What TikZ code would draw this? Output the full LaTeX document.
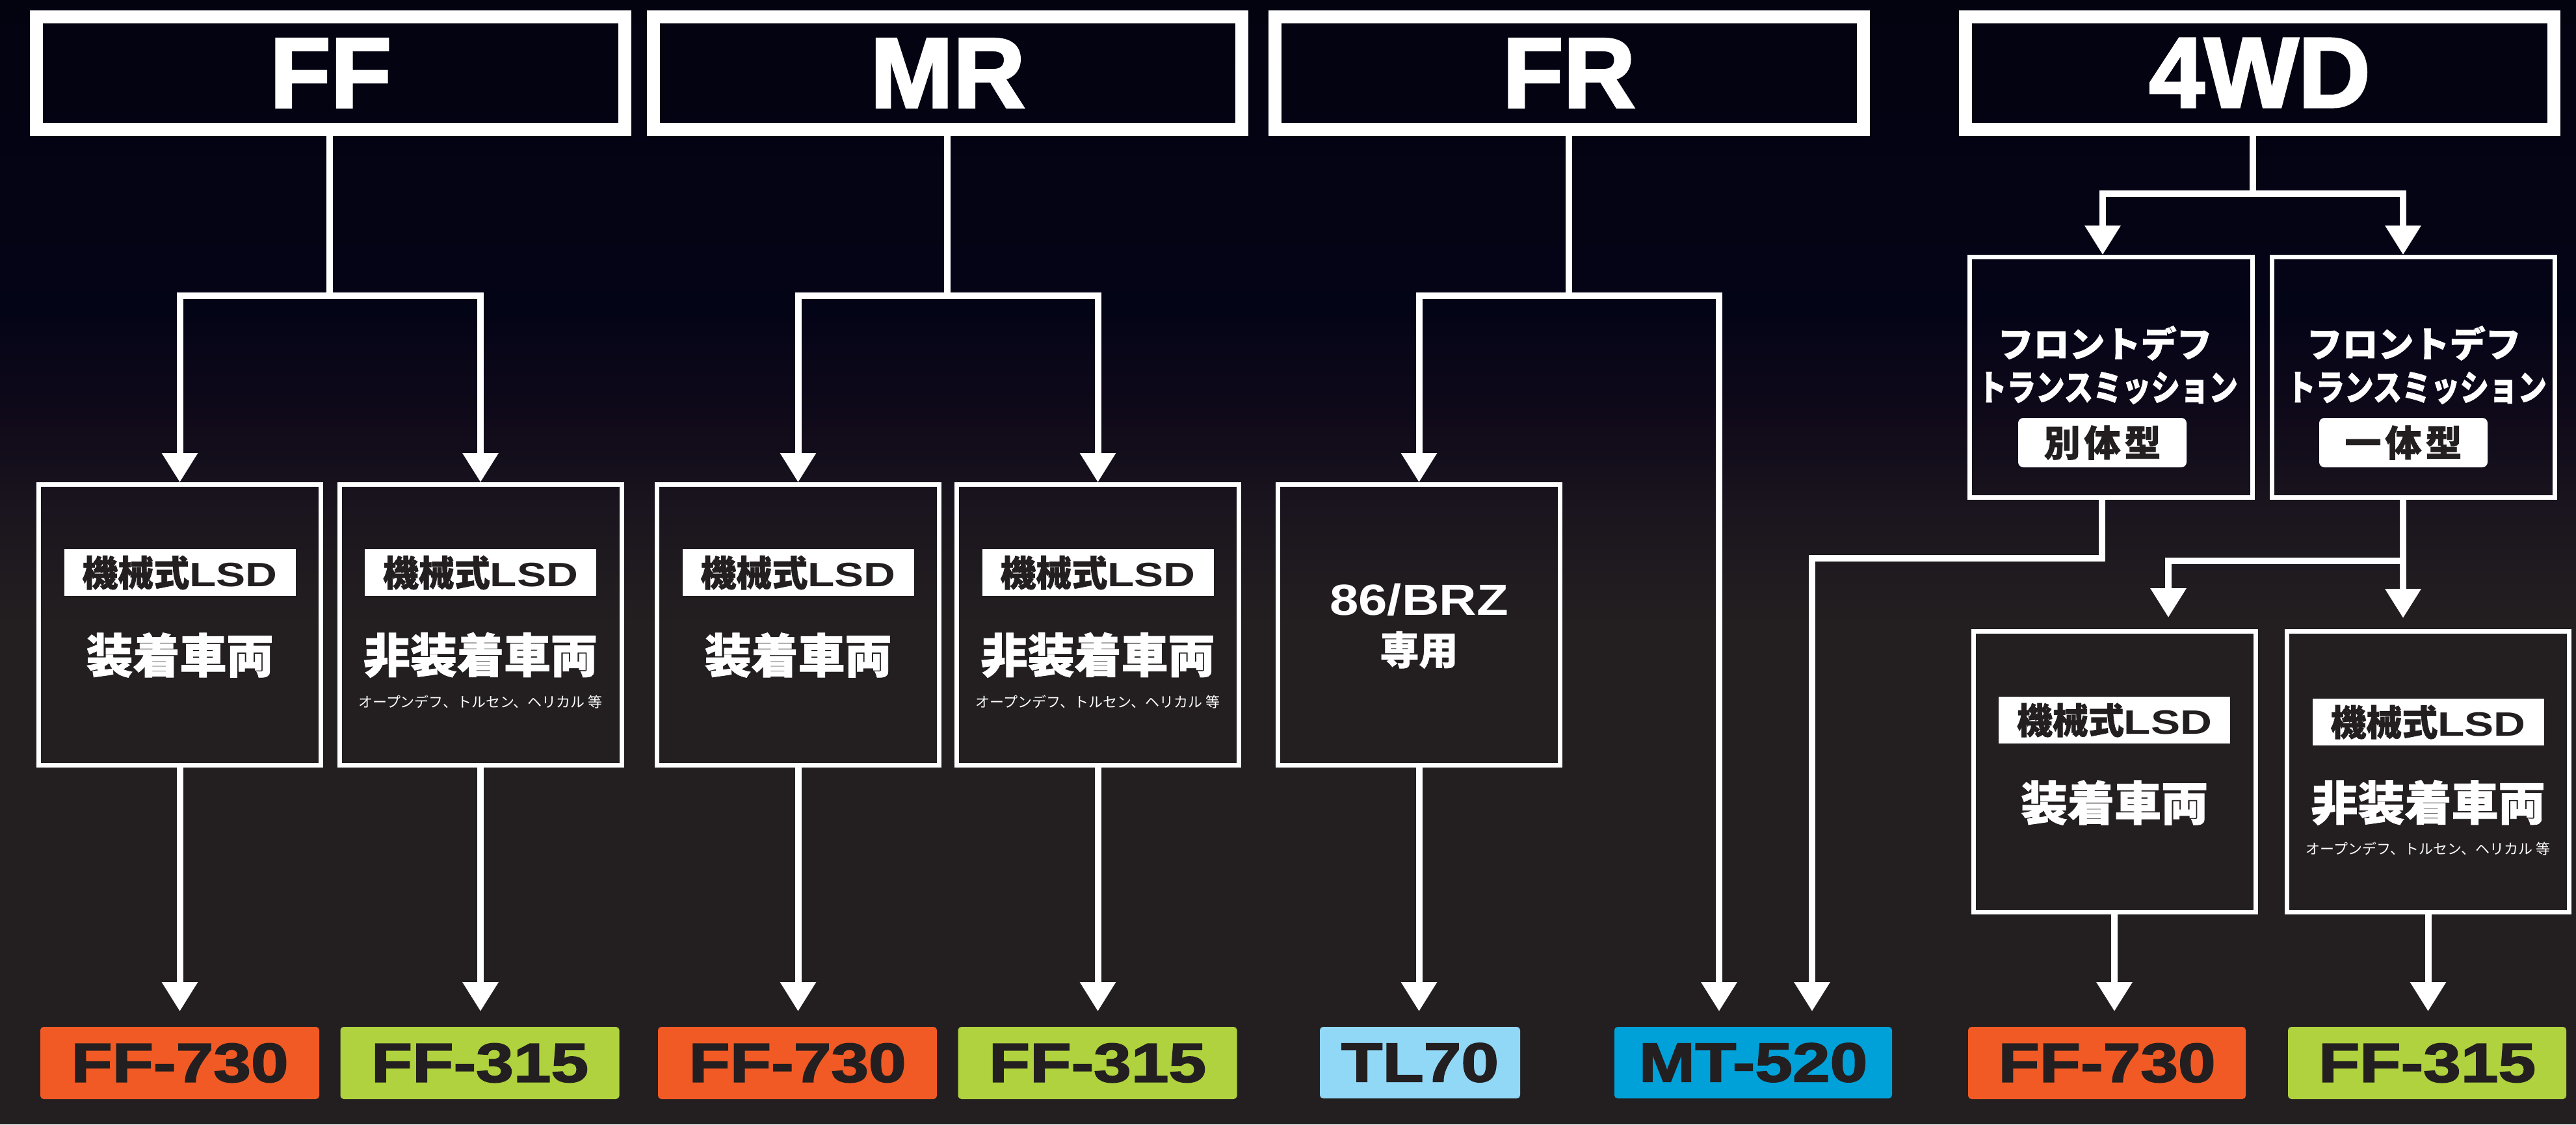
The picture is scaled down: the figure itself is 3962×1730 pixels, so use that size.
\documentclass[tikz,border=0pt]{standalone}
\usepackage{fontspec}
\usepackage{graphicx}
\usetikzlibrary{arrows.meta}
\newfontfamily\hdfont{Liberation Sans}
\newfontfamily\hdheavy{Liberation Sans}[BoldFeatures={FakeBold=2.5}]
\newfontfamily\lblfont{Liberation Sans}[BoldFeatures={FakeBold=2}]
\newfontfamily\cjk{Noto Sans CJK JP}[BoldFeatures={FakeBold=1.2}]
\definecolor{bgA}{HTML}{030310}
\definecolor{bgB}{HTML}{040417}
\definecolor{bgC}{HTML}{100A1A}
\definecolor{bgD}{HTML}{1B161E}
\definecolor{bgE}{HTML}{231F20}
\definecolor{cOr}{HTML}{F15A24}
\definecolor{cGr}{HTML}{AFD23E}
\definecolor{cLb}{HTML}{91D7F6}
\definecolor{cBl}{HTML}{00A0D9}
\definecolor{ink}{HTML}{231F20}
\newcommand\lsdtxt{{\cjk\bfseries\fontsize{55}{55}\selectfont 機械式}{\hdfont\bfseries\fontsize{52}{52}\selectfont\scalebox{1.3}[1]{LSD}}}
\begin{document}
\begin{tikzpicture}[x=1pt,y=-1pt,
  hdr/.style={draw=white,line width=20pt,minimum width=905pt,minimum height=173pt,inner sep=0pt,text=white,font=\hdheavy\bfseries\fontsize{153}{153}\selectfont},
  bx/.style={draw=white,line width=7pt,minimum width=434pt,minimum height=432pt,inner sep=0pt},
  bxu/.style={bx,minimum width=435pt,minimum height=370pt},
  badge/.style={fill=white,minimum width=356pt,minimum height=72pt,inner sep=0pt,text=ink},
  badgeb/.style={fill=white,rounded corners=8pt,minimum width=259pt,minimum height=76pt,inner sep=0pt,text=ink,font=\cjk\bfseries\fontsize{56}{56}\selectfont},
  maintxt/.style={inner sep=0pt,text=white,font=\cjk\bfseries\fontsize{72}{72}\selectfont},
  subtxt/.style={inner sep=0pt,text=white,font=\cjk\fontsize{22}{22}\selectfont},
  midtxt/.style={inner sep=0pt,text=white,font=\cjk\bfseries\fontsize{55}{55}\selectfont},
  lbl/.style={rounded corners=5pt,minimum width=429pt,minimum height=111pt,inner sep=0pt,outer sep=0pt,text=ink,font=\lblfont\bfseries\fontsize{85}{85}\selectfont},
  conn/.style={draw=white,line width=10pt},
  arr/.style={conn,-{Triangle[width=53pt,length=45pt]}}
]
\useasboundingbox (0,0) rectangle (3962,1730);
% background
\fill[top color=bgA,bottom color=bgB] (0,0) rectangle (3962,481);
\fill[top color=bgB,bottom color=bgC] (0,480) rectangle (3962,651);
\fill[top color=bgC,bottom color=bgD] (0,650) rectangle (3962,801);
\fill[top color=bgD,bottom color=bgE] (0,800) rectangle (3962,961);
\fill[bgE] (0,960) rectangle (3962,1730);

% headers
\node[hdr] (hFF) at (508.5,112.5) {FF};
\node[hdr] (hMR) at (1457.5,112.5) {MR};
\node[hdr] (hFR) at (2413,112.5) {FR};
\node[hdr] (h4) at (3475.5,112) {4WD};

% boxes
\node[bx] (bFF1) at (276.5,961.5) {};
\node[bx] (bFF2) at (739,961.5) {};
\node[bx] (bMR1) at (1227.5,961.5) {};
\node[bx] (bMR2) at (1688.5,961.5) {};
\node[bx] (bFR) at (2182.5,961.5) {};
\node[bxu] (b4a) at (3247,580.5) {};
\node[bxu] (b4b) at (3711.5,580.5) {};
\node[bx] (b4c) at (3252,1187.5) {};
\node[bx] (b4d) at (3734.5,1187.5) {};

% box contents: LSD boxes
\node[badge] (tFF1a) at (276.5,881) {\lsdtxt};
\node[maintxt] (tFF1b) at (276.5,1008) {装着車両};
\node[badge] (tFF2a) at (739,881) {\lsdtxt};
\node[maintxt] (tFF2b) at (739,1008) {非装着車両};
\node[subtxt] (tFF2c) at (739,1080) {オープンデフ、トルセン、ヘリカル 等};
\node[badge] (tMR1a) at (1227.5,881) {\lsdtxt};
\node[maintxt] (tMR1b) at (1227.5,1008) {装着車両};
\node[badge] (tMR2a) at (1688.5,881) {\lsdtxt};
\node[maintxt] (tMR2b) at (1688.5,1008) {非装着車両};
\node[subtxt] (tMR2c) at (1688.5,1080) {オープンデフ、トルセン、ヘリカル 等};
\node[badge] (t4ca) at (3252,1108) {\lsdtxt};
\node[maintxt] (t4cb) at (3252,1235) {装着車両};
\node[badge] (t4da) at (3734.5,1111) {\lsdtxt};
\node[maintxt] (t4db) at (3734.5,1235) {非装着車両};
\node[subtxt] (t4dc) at (3734.5,1306) {オープンデフ、トルセン、ヘリカル 等};

% FR box
\node[inner sep=0pt,text=white,font=\hdfont\bfseries\fontsize{67}{67}\selectfont] (tFRa) at (2182.5,923) {\scalebox{1.19}[1]{86/BRZ}};
\node[inner sep=0pt,text=white,font=\cjk\bfseries\fontsize{60}{60}\selectfont] (tFRb) at (2182.5,1000) {専用};

% 4WD upper boxes
\node[midtxt] (t4aa) at (3237.5,528) {フロントデフ};
\node[midtxt] (t4ab) at (3242,597) {\scalebox{0.81}[1]{トランスミッション}};
\node[badgeb] (t4ac) at (3233.5,681) {別\hspace{6pt}体\hspace{6pt}型};
\node[midtxt] (t4ba) at (3712.5,528) {フロントデフ};
\node[midtxt] (t4bb) at (3717,597) {\scalebox{0.81}[1]{トランスミッション}};
\node[badgeb] (t4bc) at (3696.5,681) {一\hspace{6pt}体\hspace{6pt}型};

% bottom labels
\node[lbl,fill=cOr] (lFF1) at (276.5,1635.5) {\scalebox{1.22}[1]{FF-730}};
\node[lbl,fill=cGr] (lFF2) at (738,1635.5) {\scalebox{1.22}[1]{FF-315}};
\node[lbl,fill=cOr] (lMR1) at (1226.5,1635.5) {\scalebox{1.22}[1]{FF-730}};
\node[lbl,fill=cGr] (lMR2) at (1688,1635.5) {\scalebox{1.22}[1]{FF-315}};
\node[lbl,fill=cLb,minimum width=308pt,minimum height=110pt] (lTL) at (2184,1635) {\scalebox{1.22}[1]{TL70}};
\node[lbl,fill=cBl,minimum width=427pt,minimum height=110pt] (lMT) at (2696.5,1635) {\scalebox{1.22}[1]{MT-520}};
\node[lbl,fill=cOr,minimum width=427pt] (l4a) at (3240.5,1635.5) {\scalebox{1.22}[1]{FF-730}};
\node[lbl,fill=cGr,minimum width=428pt] (l4b) at (3733,1635.5) {\scalebox{1.22}[1]{FF-315}};

% junction coordinates
\coordinate (jFF) at (507,455);
\coordinate (jMR) at (1457,455);
\coordinate (jFR) at (2413,455);
\coordinate (j4) at (3465,298);
\coordinate (mtA) at (2644,1556);
\coordinate (mtB) at (2787,1556);
\coordinate (k4b) at (3696,863);

% FF connectors
\draw[conn] (hFF.south -| jFF) -- (jFF);
\draw[arr] (jFF) -| (bFF1.north);
\draw[arr] (jFF) -| (bFF2.north);
\draw[arr,shorten >=24pt] (bFF1.south) -- (bFF1.south |- lFF1.north);
\draw[arr,shorten >=24pt] (bFF2.south) -- (bFF2.south |- lFF2.north);
% MR connectors
\draw[conn] (hMR.south -| jMR) -- (jMR);
\draw[arr] (jMR) -| (bMR1.north);
\draw[arr] (jMR) -| (bMR2.north);
\draw[arr,shorten >=24pt] (bMR1.south) -- (bMR1.south |- lMR1.north);
\draw[arr,shorten >=24pt] (bMR2.south) -- (bMR2.south |- lMR2.north);
% FR connectors
\draw[conn] (hFR.south -| jFR) -- (jFR);
\draw[arr] (jFR) -| (bFR.north);
\draw[arr] (jFR) -| (mtA);
\draw[arr,shorten >=24pt] (bFR.south) -- (bFR.south |- lTL.north);
% 4WD connectors
\draw[conn] (h4.south -| j4) -- (j4);
\draw[arr] (j4) -| ([xshift=-13pt]b4a.north);
\draw[arr] (j4) -| ([xshift=-15.5pt]b4b.north);
\draw[arr] ([xshift=-14pt]b4a.south) -- ++(0,90) -| (mtB);
\draw[conn] ([xshift=-15.5pt]b4b.south) -- (k4b);
\draw[arr] (k4b) -| ([xshift=83pt,yshift=18pt]b4c.north);
\draw[arr] (k4b) -- ++(0,88);
\draw[arr,shorten >=24pt] (b4c.south) -- (b4c.south |- l4a.north);
\draw[arr,shorten >=24pt] (b4d.south) -- (b4d.south |- l4b.north);
\end{tikzpicture}
\end{document}
